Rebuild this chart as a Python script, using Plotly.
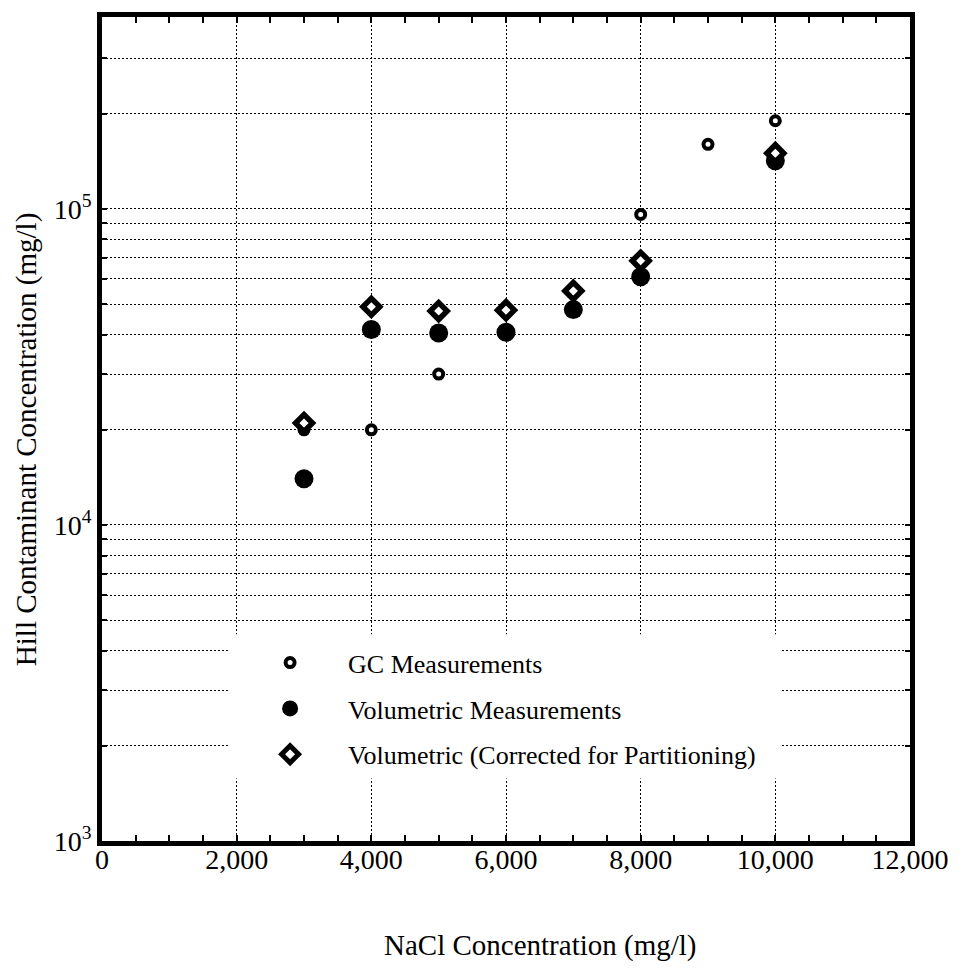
import plotly.graph_objects as go

# ---- data ----
gc_x = [3000, 4000, 5000, 8000, 9000, 10000]
gc_y = [2.0e4, 2.0e4, 3.0e4, 9.6e4, 1.6e5, 1.9e5]

vol_x = [3000, 4000, 5000, 6000, 7000, 8000, 10000]
vol_y = [1.4e4, 4.15e4, 4.05e4, 4.07e4, 4.8e4, 6.1e4, 1.42e5]

cor_x = [3000, 4000, 5000, 6000, 7000, 8000, 10000]
cor_y = [2.1e4, 4.9e4, 4.75e4, 4.78e4, 5.5e4, 6.85e4, 1.5e5]

x_ticks = [0, 2000, 4000, 6000, 8000, 10000, 12000]
x_ticklabels = ["0", "2,000", "4,000", "6,000", "8,000", "10,000", "12,000"]
y_ticks = [1e3, 1e4, 1e5]
y_ticklabels = ["10<sup>3</sup>", "10<sup>4</sup>", "10<sup>5</sup>"]
y_minor = [m * 10 ** e for e in (3, 4) for m in range(2, 10)] + [2e5, 3e5]

series_names = ["GC Measurements", "Volumetric Measurements",
                "Volumetric (Corrected for Partitioning)"]

FONT = "Liberation Serif, Times New Roman, serif"

fig = go.Figure()
fig.add_trace(go.Scatter(
    x=gc_x, y=gc_y, mode="markers", name=series_names[0], legendgroup="a",
    marker=dict(symbol="circle", size=9, color="white",
                line=dict(color="black", width=4))))
fig.add_trace(go.Scatter(
    x=vol_x, y=vol_y, mode="markers", name=series_names[1], legendgroup="b",
    marker=dict(symbol="circle", size=19, color="black",
                line=dict(color="black", width=0))))
fig.add_trace(go.Scatter(
    x=cor_x, y=cor_y, mode="markers", name=series_names[2], legendgroup="c",
    marker=dict(symbol="diamond", size=13, color="white",
                line=dict(color="black", width=5.5))))

grid = dict(gridcolor="black", gridwidth=1.3, griddash="2px,2px")

fig.update_xaxes(
    range=[0, 12000], tickmode="array", tickvals=x_ticks, ticktext=x_ticklabels,
    showgrid=True, **grid,
    ticks="inside", ticklen=6, tickwidth=2, tickcolor="black",
    minor=dict(dtick=500, tick0=0, ticks="inside", ticklen=6, tickwidth=2,
               tickcolor="black", showgrid=False),
    showline=True, linecolor="black", linewidth=4.5, mirror="ticks",
    zeroline=False, tickfont=dict(family=FONT, size=28, color="black"),
    ticklabelstandoff=-10,
)
fig.update_yaxes(
    type="log", range=[3, 5.607], tickmode="array", tickvals=y_ticks,
    ticktext=y_ticklabels, showgrid=True, **grid,
    ticks="inside", ticklen=5, tickwidth=2, tickcolor="black",
    minor=dict(tickmode="array", tickvals=y_minor, ticks="inside", ticklen=5,
               tickwidth=2, tickcolor="black", showgrid=True, **grid),
    showline=True, linecolor="black", linewidth=4.5, mirror="ticks",
    zeroline=False, tickfont=dict(family=FONT, size=28, color="black"),
)

# white panel behind the legend (hides the grid there)
fig.add_shape(type="rect", xref="paper", yref="paper",
              x0=0.156, x1=0.840, y0=0.076, y1=0.251,
              fillcolor="white", line=dict(width=0), layer="above")

fig.add_annotation(text="NaCl Concentration (mg/l)", xref="paper", yref="paper",
                   x=0.543, y=-0.127, xanchor="center", yanchor="middle",
                   showarrow=False, font=dict(family=FONT, size=29, color="black"))
fig.add_annotation(text="Hill Contaminant Concentration (mg/l)", xref="paper",
                   yref="paper", x=-0.0935, y=0.487, xanchor="center",
                   yanchor="middle", textangle=-90, showarrow=False,
                   font=dict(family=FONT, size=29, color="black"))

fig.update_layout(
    width=955, height=962,
    margin=dict(l=94, r=53, t=4, b=129),
    paper_bgcolor="white", plot_bgcolor="white",
    showlegend=True,
    legend=dict(x=0.161, y=0.2449, xanchor="left", yanchor="top",
                bgcolor="rgba(0,0,0,0)", borderwidth=0,
                font=dict(family=FONT, size=26, color="black"),
                itemwidth=106, tracegroupgap=9, traceorder="grouped"),
)

fig.write_html("out.html")
